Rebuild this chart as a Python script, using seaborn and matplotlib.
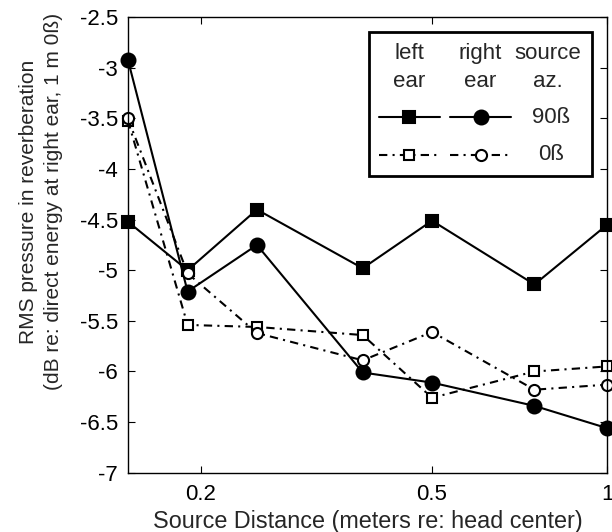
import matplotlib
matplotlib.use('Agg')
import matplotlib.pyplot as plt
import seaborn as sns
import numpy as np
import pandas as pd
from matplotlib.lines import Line2D
from matplotlib.patches import Rectangle
from matplotlib.ticker import NullLocator

# Source distance (m) and RMS reverberant pressure (dB)
distance = [0.15, 0.19, 0.25, 0.38, 0.5, 0.75, 1.0]
left_90 = [-4.52, -5.00, -4.40, -4.98, -4.51, -5.14, -4.55]
right_90 = [-2.92, -5.21, -4.75, -6.01, -6.11, -6.34, -6.56]
left_0 = [-3.52, -5.54, -5.56, -5.64, -6.26, -6.00, -5.95]
right_0 = [-3.50, -5.03, -5.62, -5.89, -5.61, -6.18, -6.13]

y_ticks = [-7, -6.5, -6, -5.5, -5, -4.5, -4, -3.5, -3, -2.5]
x_ticks = [0.2, 0.5, 1]
x_tick_labels = ['0.2', '0.5', '1']

sns.set_style('ticks')
plt.rcParams['font.family'] = ['Liberation Sans', 'DejaVu Sans']
plt.rcParams['axes.unicode_minus'] = False

dashdot = (0, (4, 2.5, 1, 2.5))
series = [
    (left_90, 's', 8, 'black', '-'),
    (right_90, 'o', 10, 'black', '-'),
    (left_0, 's', 6.5, 'white', dashdot),
    (right_0, 'o', 8, 'white', dashdot),
]

fig = plt.figure(figsize=(6.12, 5.32), dpi=100)
ax = fig.add_axes([0.209, 0.1115, 0.783, 0.856])

for vals, mk, ms, face, ls in series:
    df = pd.DataFrame({'distance': distance, 'pressure': vals})
    sns.lineplot(data=df, x='distance', y='pressure', ax=ax, color='black',
                 linewidth=1.5, linestyle=ls, marker=mk, markersize=ms,
                 markerfacecolor=face, markeredgecolor='black',
                 markeredgewidth=1.5, clip_on=False, legend=False)

ax.set_xscale('log')
ax.set_xlim(0.15, 1)
ax.set_ylim(-7, -2.5)
ax.set_xticks(x_ticks)
ax.set_xticklabels(x_tick_labels)
ax.xaxis.set_minor_locator(NullLocator())
ax.set_yticks(y_ticks)
ax.set_yticklabels(['%g' % v for v in y_ticks])
ax.tick_params(direction='in', length=5, width=0.8, top=True, right=True,
               labelsize=16, colors='black')
ax.tick_params(axis='y', pad=7)
ax.tick_params(axis='x', pad=8)
for sp in ax.spines.values():
    sp.set_visible(True)
    sp.set_color('black')
    sp.set_linewidth(1.0)

ax.set_xlabel('Source Distance (meters re: head center)', fontsize=16.8)
ax.xaxis.set_label_coords(0.5, -0.082)
ax.set_ylabel('RMS pressure in reverberation\n(dB re: direct energy at right ear, 1 m 0ß)',
              fontsize=15, linespacing=1.4)
ax.yaxis.set_label_coords(-0.136, 0.595)

# custom table-style legend
tr = ax.transAxes
ax.add_patch(Rectangle((0.503, 0.6515), 0.466, 0.3165, transform=tr,
                       fill=False, edgecolor='black', linewidth=2, zorder=5))
for cx, txt in [(0.587, 'left\near'), (0.735, 'right\near'), (0.877, 'source\naz.')]:
    ax.text(cx, 0.890, txt, transform=tr, ha='center', va='center',
            fontsize=16, linespacing=1.45, zorder=6)
for row_y, (vl, vr, lab) in [(0.781, (series[0], series[1], '90ß')),
                             (0.698, (series[2], series[3], '0ß'))]:
    for (vals, mk, ms, face, ls), (x0, x1) in [(vl, (0.523, 0.651)), (vr, (0.672, 0.800))]:
        ax.add_line(Line2D([x0, (x0 + x1) / 2, x1], [row_y] * 3, transform=tr,
                           color='black', linewidth=1.5, linestyle=ls,
                           marker=mk, markersize=ms, markevery=[1],
                           markerfacecolor=face, markeredgecolor='black',
                           markeredgewidth=1.5, zorder=6))
    ax.text(0.884, row_y, lab, transform=tr, ha='center', va='center',
            fontsize=16, zorder=6)

fig.savefig('out.png', dpi=100)
